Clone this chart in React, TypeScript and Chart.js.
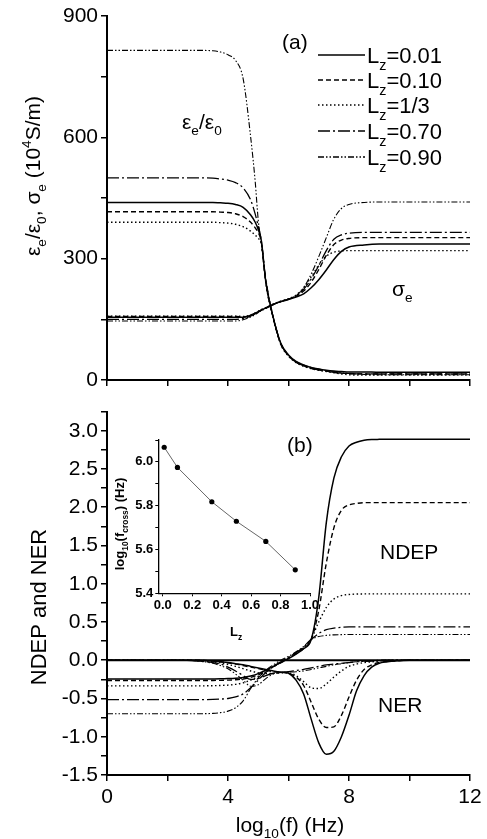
import React, { useEffect, useRef } from "react";
import { Chart, registerables } from "chart.js";
Chart.register(...registerables);

const FONT = "'Liberation Sans', Arial, Helvetica, sans-serif";

// ---------- Panel (a) ----------
const XA = [0, 3, 3.5, 3.75, 4, 4.25, 4.5, 4.75, 4.9, 5, 5.1, 5.25, 5.5, 5.75, 6, 6.25, 6.5, 6.75, 7, 7.25, 7.5, 7.75, 8, 8.5, 9, 10, 12];
const EPS_L001 = [439, 439, 439, 438, 437, 434, 427, 408, 390, 372, 345, 243, 153, 90, 62, 46, 37, 31, 27, 24, 22, 21, 20, 20, 19, 19, 19];
const EPS_L010 = [416, 416, 416, 415, 414, 411, 404, 390, 376, 364, 342, 242, 152, 88, 60, 44, 35, 29, 25, 22, 19, 17, 16, 15, 15, 15, 15];
const EPS_L033 = [390, 390, 390, 389, 388, 385, 379, 368, 358, 350, 338, 240, 150, 87, 59, 43, 34, 28, 24, 21, 18, 15, 13, 12, 12, 12, 12];
const EPS_L070 = [500, 500, 499, 497, 494, 488, 475, 445, 410, 380, 345, 245, 154, 89, 61, 44, 35, 29, 25, 22, 19, 17, 16, 15, 15, 15, 15];
const EPS_L090 = [815, 815, 814, 811, 804, 790, 745, 600, 490, 395, 340, 250, 155, 90, 60, 46, 37, 31, 27, 23, 20, 18, 16, 14, 13, 13, 13];
const SIG_L001 = [155, 155, 155, 155, 155, 155, 155, 160, 165, 169, 173, 178, 187, 194, 199, 205, 213, 228, 248, 272, 298, 318, 329, 334, 336, 336, 336];
const SIG_L010 = [157, 157, 157, 157, 157, 157, 156, 160, 165, 169, 173, 178, 187, 194, 200, 207, 220, 242, 273, 308, 335, 346, 350, 352, 352, 352, 352];
const SIG_L033 = [158, 158, 158, 158, 158, 158, 157, 161, 166, 170, 174, 179, 188, 195, 201, 210, 228, 255, 284, 306, 316, 319, 320, 320, 320, 320, 320];
const SIG_L070 = [150, 150, 150, 150, 150, 150, 152, 158, 164, 168, 172, 178, 187, 194, 200, 208, 224, 250, 283, 320, 348, 359, 363, 365, 365, 365, 365];
const SIG_L090 = [146, 146, 146, 146, 146, 146, 149, 156, 162, 167, 171, 177, 186, 194, 200, 208, 228, 262, 305, 352, 398, 424, 434, 439, 440, 440, 440];

// ---------- Panel (b) ----------
const XB = [0, 2.5, 3, 3.5, 3.75, 4, 4.25, 4.5, 4.75, 5, 5.25, 5.5, 5.75, 6, 6.25, 6.5, 6.75, 7, 7.25, 7.5, 7.75, 8, 8.25, 8.5, 8.75, 9, 9.5, 10, 12];
const NDEP_L001 = [-0.245, -0.245, -0.245, -0.244, -0.243, -0.24, -0.235, -0.225, -0.205, -0.175, -0.13, -0.08, -0.03, 0.02, 0.08, 0.15, 0.27, 0.82, 1.8, 2.38, 2.66, 2.8, 2.85, 2.875, 2.885, 2.887, 2.888, 2.888, 2.888];
const NDEP_L010 = [-0.265, -0.265, -0.265, -0.264, -0.263, -0.26, -0.255, -0.245, -0.225, -0.19, -0.14, -0.085, -0.03, 0.025, 0.085, 0.155, 0.27, 0.65, 1.27, 1.73, 1.96, 2.03, 2.05, 2.06, 2.06, 2.06, 2.06, 2.06, 2.06];
const NDEP_L033 = [-0.335, -0.335, -0.335, -0.333, -0.33, -0.325, -0.315, -0.295, -0.26, -0.21, -0.15, -0.085, -0.025, 0.035, 0.095, 0.165, 0.28, 0.5, 0.69, 0.8, 0.845, 0.86, 0.865, 0.867, 0.867, 0.867, 0.867, 0.867, 0.867];
const NDEP_L070 = [-0.515, -0.515, -0.515, -0.512, -0.508, -0.5, -0.48, -0.44, -0.36, -0.26, -0.16, -0.08, -0.02, 0.04, 0.1, 0.17, 0.27, 0.35, 0.4, 0.42, 0.43, 0.435, 0.437, 0.437, 0.437, 0.437, 0.437, 0.437, 0.437];
const NDEP_L090 = [-0.7, -0.7, -0.699, -0.695, -0.685, -0.665, -0.62, -0.53, -0.37, -0.23, -0.13, -0.06, 0.0, 0.05, 0.11, 0.18, 0.27, 0.31, 0.325, 0.332, 0.335, 0.336, 0.336, 0.336, 0.336, 0.336, 0.336, 0.336, 0.336];
const NER_L001 = [0, 0, 0, -0.01, -0.02, -0.03, -0.045, -0.06, -0.08, -0.1, -0.12, -0.14, -0.155, -0.17, -0.26, -0.44, -0.77, -1.08, -1.23, -1.19, -1.0, -0.72, -0.4, -0.2, -0.09, -0.04, -0.01, 0, 0];
const NER_L010 = [0, 0, 0, -0.01, -0.02, -0.035, -0.05, -0.07, -0.09, -0.11, -0.13, -0.15, -0.16, -0.17, -0.22, -0.33, -0.55, -0.77, -0.88, -0.87, -0.72, -0.48, -0.26, -0.12, -0.06, -0.03, -0.01, 0, 0];
const NER_L033 = [0, 0, -0.005, -0.02, -0.035, -0.055, -0.08, -0.11, -0.14, -0.165, -0.175, -0.17, -0.165, -0.165, -0.2, -0.28, -0.36, -0.37, -0.31, -0.22, -0.14, -0.08, -0.05, -0.03, -0.02, -0.01, 0, 0, 0];
const NER_L070 = [0, 0, -0.01, -0.03, -0.05, -0.09, -0.14, -0.2, -0.25, -0.24, -0.2, -0.17, -0.16, -0.15, -0.135, -0.12, -0.1, -0.08, -0.06, -0.05, -0.04, -0.03, -0.02, -0.01, -0.01, 0, 0, 0, 0];
const NER_L090 = [0, 0, -0.01, -0.04, -0.07, -0.11, -0.18, -0.26, -0.34, -0.32, -0.24, -0.18, -0.16, -0.155, -0.15, -0.14, -0.12, -0.1, -0.08, -0.06, -0.045, -0.03, -0.02, -0.015, -0.01, -0.005, 0, 0, 0];
const ZERO_X = [0, 12];
const ZERO_Y = [0, 0];

// ---------- Inset ----------
const INSET_LZ = [0.01, 0.1, 1 / 3, 0.5, 0.7, 0.9];
const INSET_FCROSS = [6.067, 5.975, 5.818, 5.729, 5.637, 5.507];

// ---------- Ticks / labels ----------
const X_TICKS = [0, 2, 4, 6, 8, 10, 12];
const YA_TICKS = [0, 150, 300, 450, 600, 750, 900];
const YB_TICKS = [-1.5, -1.25, -1, -0.75, -0.5, -0.25, 0, 0.25, 0.5, 0.75, 1, 1.25, 1.5, 1.75, 2, 2.25, 2.5, 2.75, 3, 3.25];
const IX_TICKS = [0, 0.2, 0.4, 0.6, 0.8, 1.0];
const IY_TICKS = [5.4, 5.5, 5.6, 5.7, 5.8, 5.9, 6.0, 6.1];
const LEGEND_LABELS = ["=0.01", "=0.10", "=1/3", "=0.70", "=0.90"];

const STYLES = [
  { w: 1.5, dash: [] as number[] },
  { w: 1.4, dash: [5, 3] },
  { w: 1.4, dash: [1.5, 2.5] },
  { w: 1.3, dash: [12, 3, 2, 3] },
  { w: 1.1, dash: [6, 2, 1.5, 2, 1.5, 2] },
];

type Seg = { t: string; s?: "sub" | "sup" };

function drawRich(
  ctx: CanvasRenderingContext2D,
  segs: Seg[],
  x: number,
  y: number,
  size: number,
  align: "left" | "center" | "right" = "left",
  rotate = 0,
  weight = "normal"
) {
  ctx.save();
  ctx.translate(x, y);
  if (rotate) ctx.rotate(rotate);
  ctx.textBaseline = "alphabetic";
  ctx.textAlign = "left";
  const parts = segs.map((sg) => {
    const fs = sg.s ? size * 0.65 : size;
    ctx.font = `${weight} ${fs}px ${FONT}`;
    return { sg, fs, w: ctx.measureText(sg.t).width };
  });
  const total = parts.reduce((a, p) => a + p.w, 0);
  let cx = align === "center" ? -total / 2 : align === "right" ? -total : 0;
  for (const p of parts) {
    ctx.font = `${weight} ${p.fs}px ${FONT}`;
    const dy = p.sg.s === "sub" ? size * 0.3 : p.sg.s === "sup" ? -size * 0.42 : 0;
    ctx.fillText(p.sg.t, cx, dy);
    cx += p.w;
  }
  ctx.restore();
}

const mk = (xs: number[], ys: number[], st: { w: number; dash: number[] }) => ({
  data: xs.map((x, i) => ({ x, y: ys[i] })),
  borderColor: "#000",
  backgroundColor: "#000",
  borderWidth: st.w,
  borderDash: st.dash,
  pointRadius: 0,
  fill: false,
  cubicInterpolationMode: "monotone" as const,
});

const TICK_FS = 21;

const axisCommon = (fontSize: number, bold = false) => ({
  grid: { drawOnChartArea: false, drawTicks: true, tickLength: 6, color: "#000", lineWidth: 1.5 },
  border: { display: true, color: "#000", width: 2 },
  ticks: {
    font: { family: FONT, size: fontSize, weight: bold ? "bold" : "normal" },
    color: "#000",
    maxRotation: 0,
    autoSkip: false,
  },
});

// canvas placements (global px)
const A_POS = { left: 0, top: 0, w: 487, h: 400 };
const B_POS = { left: 0, top: 396, w: 487, h: 443 };
const I_POS = { left: 95, top: 426, w: 230, h: 225 };

function makeTextPlugin(id: string, pos: { left: number; top: number }, draw: (ctx: CanvasRenderingContext2D) => void) {
  return {
    id,
    afterDraw(chart: any) {
      const ctx = chart.ctx as CanvasRenderingContext2D;
      ctx.save();
      ctx.translate(-pos.left, -pos.top);
      ctx.fillStyle = "#000";
      ctx.strokeStyle = "#000";
      draw(ctx);
      ctx.restore();
    },
  };
}

export default function App() {
  const aRef = useRef<HTMLCanvasElement>(null);
  const bRef = useRef<HTMLCanvasElement>(null);
  const iRef = useRef<HTMLCanvasElement>(null);

  useEffect(() => {
    const charts: Chart[] = [];

    // ---- Panel (a)
    const epsSets = [EPS_L001, EPS_L010, EPS_L033, EPS_L070, EPS_L090];
    const sigSets = [SIG_L001, SIG_L010, SIG_L033, SIG_L070, SIG_L090];
    const dsA: any[] = [];
    epsSets.forEach((ys, i) => dsA.push(mk(XA, ys, STYLES[i])));
    sigSets.forEach((ys, i) => dsA.push(mk(XA, ys, STYLES[i])));

    const textA = makeTextPlugin("textA", A_POS, (ctx) => {
      drawRich(
        ctx,
        [{ t: "ε" }, { t: "e", s: "sub" }, { t: "/ε" }, { t: "0", s: "sub" }, { t: ", σ" }, { t: "e", s: "sub" }, { t: " (10" }, { t: "4", s: "sup" }, { t: "S/m)" }],
        40, 176, 21, "center", -Math.PI / 2
      );
      drawRich(ctx, [{ t: "(a)" }], 282, 49, 21);
      drawRich(ctx, [{ t: "ε" }, { t: "e", s: "sub" }, { t: "/ε" }, { t: "0", s: "sub" }], 182, 129, 21);
      drawRich(ctx, [{ t: "σ" }, { t: "e", s: "sub" }], 392, 296, 21);
      const legY = [55, 80, 105, 131, 157];
      legY.forEach((y, i) => {
        ctx.save();
        ctx.lineWidth = STYLES[i].w + 0.2;
        ctx.setLineDash(STYLES[i].dash);
        ctx.beginPath();
        ctx.moveTo(318, y);
        ctx.lineTo(365, y);
        ctx.stroke();
        ctx.restore();
        drawRich(ctx, [{ t: "L" }, { t: "z", s: "sub" }, { t: LEGEND_LABELS[i] }], 367, y + 8, 22);
      });
    });

    if (aRef.current) {
      charts.push(
        new Chart(aRef.current, {
          type: "line",
          data: { datasets: dsA },
          options: {
            animation: false,
            responsive: false,
            devicePixelRatio: 1,
            layout: { padding: { left: 0, right: 17, top: 16, bottom: 0 } },
            plugins: { legend: { display: false }, tooltip: { enabled: false } },
            scales: {
              x: {
                type: "linear",
                min: 0,
                max: 12,
                ...axisCommon(TICK_FS),
                ticks: { ...axisCommon(TICK_FS).ticks, callback: () => "" },
                afterBuildTicks: (s: any) => { s.ticks = X_TICKS.map((v) => ({ value: v })); },
                afterFit: (s: any) => { s.height = 20; },
              },
              y: {
                type: "linear",
                min: 0,
                max: 900,
                ...axisCommon(TICK_FS),
                ticks: { ...axisCommon(TICK_FS).ticks, padding: 3, callback: (v: any) => (v % 300 === 0 ? String(v) : "") },
                afterBuildTicks: (s: any) => { s.ticks = YA_TICKS.map((v) => ({ value: v })); },
                afterFit: (s: any) => { s.width = 107; },
              },
            },
          } as any,
          plugins: [textA],
        })
      );
    }

    // ---- Panel (b)
    const ndepSets = [NDEP_L001, NDEP_L010, NDEP_L033, NDEP_L070, NDEP_L090];
    const nerSets = [NER_L001, NER_L010, NER_L033, NER_L070, NER_L090];
    const dsB: any[] = [];
    dsB.push(mk(ZERO_X, ZERO_Y, { w: 2.2, dash: [] }));
    ndepSets.forEach((ys, i) => dsB.push(mk(XB, ys, STYLES[i])));
    nerSets.forEach((ys, i) => dsB.push(mk(XB, ys, STYLES[i])));

    const textB = makeTextPlugin("textB", B_POS, (ctx) => {
      drawRich(ctx, [{ t: "NDEP and NER" }], 46, 607, 22, "center", -Math.PI / 2);
      drawRich(ctx, [{ t: "log" }, { t: "10", s: "sub" }, { t: "(f) (Hz)" }], 290, 832, 21, "center");
      drawRich(ctx, [{ t: "(b)" }], 287, 452, 21);
      drawRich(ctx, [{ t: "NDEP" }], 380, 559, 21);
      drawRich(ctx, [{ t: "NER" }], 378, 712, 21);
    });

    if (bRef.current) {
      charts.push(
        new Chart(bRef.current, {
          type: "line",
          data: { datasets: dsB },
          options: {
            animation: false,
            responsive: false,
            devicePixelRatio: 1,
            layout: { padding: { left: 0, right: 17, top: 14, bottom: 34 } },
            plugins: { legend: { display: false }, tooltip: { enabled: false } },
            scales: {
              x: {
                type: "linear",
                min: 0,
                max: 12,
                ...axisCommon(TICK_FS),
                ticks: { ...axisCommon(TICK_FS).ticks, padding: 4, callback: (v: any) => (v % 4 === 0 ? String(v) : "") },
                afterBuildTicks: (s: any) => { s.ticks = X_TICKS.map((v) => ({ value: v })); },
                afterFit: (s: any) => { s.height = 30; },
              },
              y: {
                type: "linear",
                min: -1.5,
                max: 3.25,
                ...axisCommon(TICK_FS),
                ticks: {
                  ...axisCommon(TICK_FS).ticks,
                  padding: 3,
                  callback: (v: any) => (Math.abs(v * 2 - Math.round(v * 2)) < 1e-6 ? Number(v).toFixed(1) : ""),
                },
                afterBuildTicks: (s: any) => { s.ticks = YB_TICKS.map((v) => ({ value: v })); },
                afterFit: (s: any) => { s.width = 107; },
              },
            },
          } as any,
          plugins: [textB],
        })
      );
    }

    // ---- Inset
    const textI = makeTextPlugin("textI", I_POS, (ctx) => {
      drawRich(
        ctx,
        [{ t: "log" }, { t: "10", s: "sub" }, { t: "(f" }, { t: "cross", s: "sub" }, { t: ") (Hz)" }],
        124, 524, 13, "center", -Math.PI / 2, "bold"
      );
      drawRich(ctx, [{ t: "L" }, { t: "z", s: "sub" }], 230, 636, 13, "left", 0, "bold");
    });

    if (iRef.current) {
      charts.push(
        new Chart(iRef.current, {
          type: "line",
          data: {
            datasets: [
              {
                data: INSET_LZ.map((x, i) => ({ x, y: INSET_FCROSS[i] })),
                borderColor: "#666",
                borderWidth: 1,
                pointRadius: 2.6,
                pointBackgroundColor: "#000",
                pointBorderColor: "#000",
                pointBorderWidth: 0,
                fill: false,
                tension: 0,
              },
            ],
          },
          options: {
            animation: false,
            responsive: false,
            devicePixelRatio: 1,
            layout: { padding: { left: 0, right: 15, top: 14, bottom: 32.7 } },
            plugins: { legend: { display: false }, tooltip: { enabled: false } },
            scales: {
              x: {
                type: "linear",
                min: -0.03,
                max: 1.0,
                grid: { drawOnChartArea: false, drawTicks: true, tickLength: 3, color: "#000", lineWidth: 1 },
                border: { display: true, color: "#000", width: 1.3 },
                ticks: {
                  font: { family: FONT, size: 13, weight: "bold" },
                  color: "#000",
                  padding: 1,
                  maxRotation: 0,
                  autoSkip: false,
                  callback: (v: any) => Number(v).toFixed(1),
                },
                afterBuildTicks: (s: any) => { s.ticks = IX_TICKS.map((v) => ({ value: v })); },
                afterFit: (s: any) => { s.height = 25; },
              },
              y: {
                type: "linear",
                min: 5.4,
                max: 6.1,
                grid: { drawOnChartArea: false, drawTicks: true, tickLength: 3, color: "#000", lineWidth: 1 },
                border: { display: true, color: "#000", width: 1.3 },
                ticks: {
                  font: { family: FONT, size: 13, weight: "bold" },
                  color: "#000",
                  padding: 2,
                  autoSkip: false,
                  callback: (v: any) => (Math.round(v * 10) % 2 === 0 ? Number(v).toFixed(1) : ""),
                },
                afterBuildTicks: (s: any) => { s.ticks = IY_TICKS.map((v) => ({ value: v })); },
                afterFit: (s: any) => { s.width = 63.3; },
              },
            },
          } as any,
          plugins: [textI],
        })
      );
    }

    return () => charts.forEach((c) => c.destroy());
  }, []);

  const cs = (p: { left: number; top: number; w: number; h: number }): React.CSSProperties => ({
    position: "absolute",
    left: p.left,
    top: p.top,
    width: p.w,
    height: p.h,
  });

  return (
    <div style={{ position: "absolute", left: 0, top: 0, width: 487, height: 839, background: "#fff" }}>
      <canvas ref={aRef} width={A_POS.w} height={A_POS.h} style={cs(A_POS)} />
      <canvas ref={bRef} width={B_POS.w} height={B_POS.h} style={cs(B_POS)} />
      <canvas ref={iRef} width={I_POS.w} height={I_POS.h} style={cs(I_POS)} />
    </div>
  );
}
